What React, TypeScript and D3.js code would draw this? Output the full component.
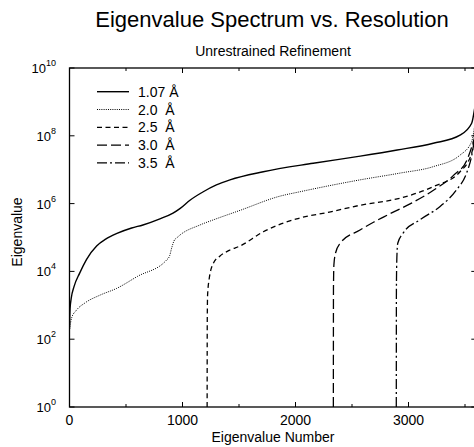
import React from "react";
import * as d3 from "d3";

// Data: eigenvalue number vs log10(eigenvalue)
const series107_n = [0, 5, 15, 40, 90, 150, 240, 320, 420, 550, 650, 800, 916, 980, 1066, 1184, 1300, 1420, 1715, 2157, 2573, 2900, 3219, 3456, 3559, 3585];
const series107_e = [2.3, 2.9, 3.2, 3.55, 3.95, 4.35, 4.75, 4.95, 5.12, 5.28, 5.37, 5.55, 5.72, 5.86, 6.1, 6.35, 6.55, 6.7, 6.94, 7.19, 7.4, 7.58, 7.78, 8.02, 8.37, 8.8];

const series20_n = [0, 19, 60, 137, 270, 418, 600, 860, 885, 905, 925, 960, 1155, 1273, 1509, 1863, 2040, 2571, 2925, 3219, 3456, 3559, 3585];
const series20_e = [2.3, 2.63, 2.85, 3.07, 3.3, 3.5, 3.85, 4.34, 4.45, 4.7, 4.9, 5.02, 5.37, 5.52, 5.8, 6.22, 6.35, 6.7, 6.9, 7.09, 7.43, 7.83, 8.3];

const series25_n = [1218, 1219, 1222, 1235, 1273, 1330, 1420, 1509, 1715, 2010, 2300, 2570, 2925, 3219, 3456, 3559, 3585];
const series25_e = [0, 2.5, 3.3, 3.75, 4.24, 4.45, 4.63, 4.75, 5.17, 5.55, 5.75, 5.95, 6.16, 6.5, 6.94, 7.49, 8.1];

const series30_n = [2335, 2336, 2340, 2355, 2395, 2571, 2690, 2782, 3018, 3224, 3400, 3518, 3585];
const series30_e = [0, 3.5, 4.2, 4.55, 4.83, 5.22, 5.45, 5.61, 6.0, 6.4, 6.84, 7.29, 7.95];

const series35_n = [2892, 2893, 2897, 2905, 2950, 3100, 3277, 3424, 3513, 3557, 3585];
const series35_e = [0, 3.5, 4.4, 4.83, 5.12, 5.52, 5.91, 6.4, 6.89, 7.38, 7.9];

const seriesLabels = ["1.07 Å", "2.0  Å", "2.5  Å", "3.0  Å", "3.5  Å"];
const seriesDash = ["none", "1 1.2", "5 3.5", "10 4", "10 3 2 3"];

const xTicks = [0, 1000, 2000, 3000];
const xMinorTicks = [500, 1500, 2500, 3500];
const yTickExps = [0, 2, 4, 6, 8, 10];

const title = "Eigenvalue Spectrum vs. Resolution";
const subtitle = "Unrestrained Refinement";
const xTitle = "Eigenvalue Number";
const yTitle = "Eigenvalue";

const W = 474;
const H = 447;
const margin = { left: 69.5, top: 68, right: 476.3, bottom: 407 };

export default function App() {
  const x = d3.scaleLinear().domain([0, 3600]).range([margin.left, margin.right]);
  const y = d3.scaleLog().domain([1, 1e10]).range([margin.bottom, margin.top]);

  const all = [
    [series107_n, series107_e],
    [series20_n, series20_e],
    [series25_n, series25_e],
    [series30_n, series30_e],
    [series35_n, series35_e],
  ].map(([ns, es]) => ns.map((n, i) => ({ n, v: Math.pow(10, es[i]) })));

  const line = d3
    .line<{ n: number; v: number }>()
    .x((d) => x(d.n))
    .y((d) => y(d.v))
    .curve(d3.curveMonotoneX);

  const font = "'Liberation Sans', Arial, Helvetica, sans-serif";
  const majorLen = 5;
  const minorLen = 3;

  return (
    <svg
      width={W}
      height={H}
      style={{ position: "absolute", left: 0, top: 0, background: "#fff" }}
      fontFamily={font}
    >
      <rect x={0} y={0} width={W} height={H} fill="#fff" />
      <text x={272} y={27} textAnchor="middle" fontSize={22}>
        {title}
      </text>
      <text x={273} y={56} textAnchor="middle" fontSize={14}>
        {subtitle}
      </text>

      <defs>
        <clipPath id="plotclip">
          <rect x={margin.left} y={margin.top} width={margin.right - margin.left} height={margin.bottom - margin.top} />
        </clipPath>
      </defs>

      {/* curves */}
      <g clipPath="url(#plotclip)">
        {all.map((pts, i) => (
          <path
            key={i}
            d={line(pts) || ""}
            fill="none"
            stroke="#000"
            strokeWidth={i === 0 ? 1.4 : i === 1 ? 1 : 1.3}
            strokeDasharray={seriesDash[i] === "none" ? undefined : seriesDash[i]}
          />
        ))}
      </g>

      {/* frame */}
      <rect
        x={margin.left}
        y={margin.top}
        width={margin.right - margin.left}
        height={margin.bottom - margin.top}
        fill="none"
        stroke="#000"
        strokeWidth={1.3}
      />

      {/* x ticks */}
      {xTicks.map((t) => (
        <g key={"xt" + t}>
          <line x1={x(t)} x2={x(t)} y1={margin.bottom} y2={margin.bottom - majorLen} stroke="#000" />
          <line x1={x(t)} x2={x(t)} y1={margin.top} y2={margin.top + majorLen} stroke="#000" />
          <text x={x(t)} y={425} textAnchor="middle" fontSize={14}>
            {t}
          </text>
        </g>
      ))}
      {xMinorTicks.map((t) => (
        <g key={"xm" + t}>
          <line x1={x(t)} x2={x(t)} y1={margin.bottom} y2={margin.bottom - minorLen} stroke="#000" />
          <line x1={x(t)} x2={x(t)} y1={margin.top} y2={margin.top + minorLen} stroke="#000" />
        </g>
      ))}

      {/* y ticks */}
      {yTickExps.map((e) => {
        const yy = y(Math.pow(10, e));
        return (
          <g key={"yt" + e}>
            <line x1={margin.left} x2={margin.left + majorLen} y1={yy} y2={yy} stroke="#000" />
            <line x1={margin.right} x2={margin.right - majorLen} y1={yy} y2={yy} stroke="#000" />
            <text x={56} y={yy + 5} textAnchor="end" fontSize={13}>
              10
              <tspan dy={-7} fontSize={9}>
                {e}
              </tspan>
            </text>
          </g>
        );
      })}

      <text x={273} y={442} textAnchor="middle" fontSize={14}>
        {xTitle}
      </text>
      <text
        transform={`translate(22, 232) rotate(-90)`}
        textAnchor="middle"
        fontSize={14}
      >
        {yTitle}
      </text>

      {/* legend */}
      {seriesLabels.map((lab, i) => {
        const yy = 91.7 + i * 17.8;
        return (
          <g key={"lg" + i}>
            <line
              x1={97}
              x2={129}
              y1={yy}
              y2={yy}
              stroke="#000"
              strokeWidth={i === 0 ? 1.4 : i === 1 ? 1 : 1.3}
              strokeDasharray={seriesDash[i] === "none" ? undefined : seriesDash[i]}
            />
            <text x={138} y={yy + 5} fontSize={14} style={{ whiteSpace: "pre" }}>
              {lab}
            </text>
          </g>
        );
      })}
    </svg>
  );
}
